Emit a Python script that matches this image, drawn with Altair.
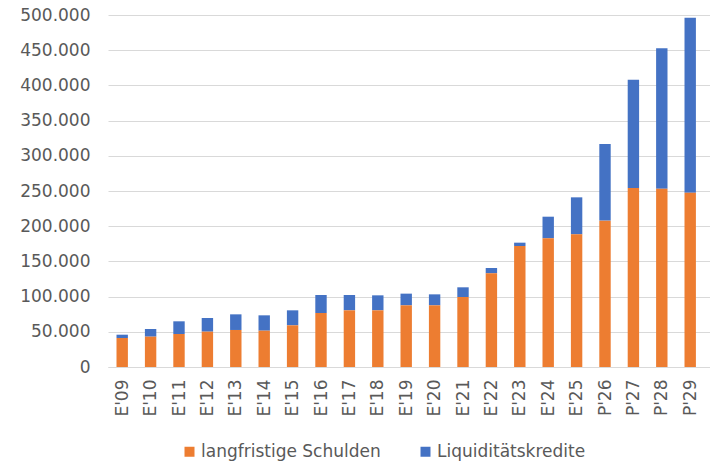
import json
import altair as alt
import pandas as pd

categories = ["E'09", "E'10", "E'11", "E'12", "E'13", "E'14", "E'15", "E'16", "E'17",
              "E'18", "E'19", "E'20", "E'21", "E'22", "E'23", "E'24", "E'25",
              "P'26", "P'27", "P'28", "P'29", "P'30"]
langfristige = [41200, 43100, 46900, 50200, 52600, 51600, 59200, 76700, 80500,
                80500, 87600, 87600, 99400, 133100, 171900, 182800, 188500,
                207900, 254300, 253300, 247600, 248600]
liquiditaet = [4700, 10900, 18000, 19400, 22200, 21800, 21300, 25600, 21800,
               21300, 16600, 15600, 13800, 7500, 4700, 30700, 52500,
               108900, 153900, 199400, 248600, 290000]
series_names = ["langfristige Schulden", "Liquiditätskredite"]
colors = ["#ED7D31", "#4472C4"]
y_ticks = list(range(0, 500001, 50000))

rows = []
for i, (c, a, b) in enumerate(zip(categories, langfristige, liquiditaet)):
    rows.append({"idx": i, "cat": c, "series": series_names[0], "y0": 0, "y1": a})
    rows.append({"idx": i, "cat": c, "series": series_names[1], "y0": a, "y1": a + b})
df = pd.DataFrame(rows)

FONT = "DejaVu Sans"
GREY = "#595959"
label_expr_x = json.dumps(categories) + "[datum.value]"
label_expr_y = "datum.value == 0 ? '0' : format(datum.value / 1000, 'd') + '.000'"

chart = alt.Chart(df).mark_bar(size=11.4, clip=True).encode(
    x=alt.X("idx:Q",
            scale=alt.Scale(domain=[-0.5, 20.697], nice=False, zero=False, padding=0),
            axis=alt.Axis(values=list(range(len(categories))), labelExpr=label_expr_x,
                          labelAngle=-90, title=None, grid=False, ticks=False,
                          domainColor="#d9d9d9", domainWidth=1, labelPadding=12,
                          labelFontSize=17, labelColor=GREY, labelFont=FONT,
                          labelFlush=False, labelOverlap=False)),
    y=alt.Y("y1:Q",
            scale=alt.Scale(domain=[0, 500000], nice=False, padding=0),
            axis=alt.Axis(values=y_ticks, labelExpr=label_expr_y, title=None,
                          domain=False, ticks=False, gridColor="#d9d9d9", gridWidth=1,
                          labelPadding=18, labelFontSize=17, labelColor=GREY,
                          labelFont=FONT)),
    y2="y0:Q",
    color=alt.Color("series:N",
                    scale=alt.Scale(domain=series_names, range=colors),
                    legend=alt.Legend(title=None, orient="none", legendX=73, legendY=428,
                                      direction="horizontal", symbolType="square",
                                      symbolSize=100, symbolStrokeWidth=0,
                                      labelFontSize=17, labelColor=GREY, labelFont=FONT,
                                      labelLimit=400, columnPadding=36, labelOffset=3,
                                      padding=0)),
    order=alt.Order("series:N"),
).properties(
    width=602, height=352,
    autosize=alt.AutoSizeParams(type="none"),
    padding={"left": 100, "top": 7, "right": 0, "bottom": 96},
).configure_view(stroke=None)

chart.save("out.html", embed_options={"renderer": "svg", "actions": False})
